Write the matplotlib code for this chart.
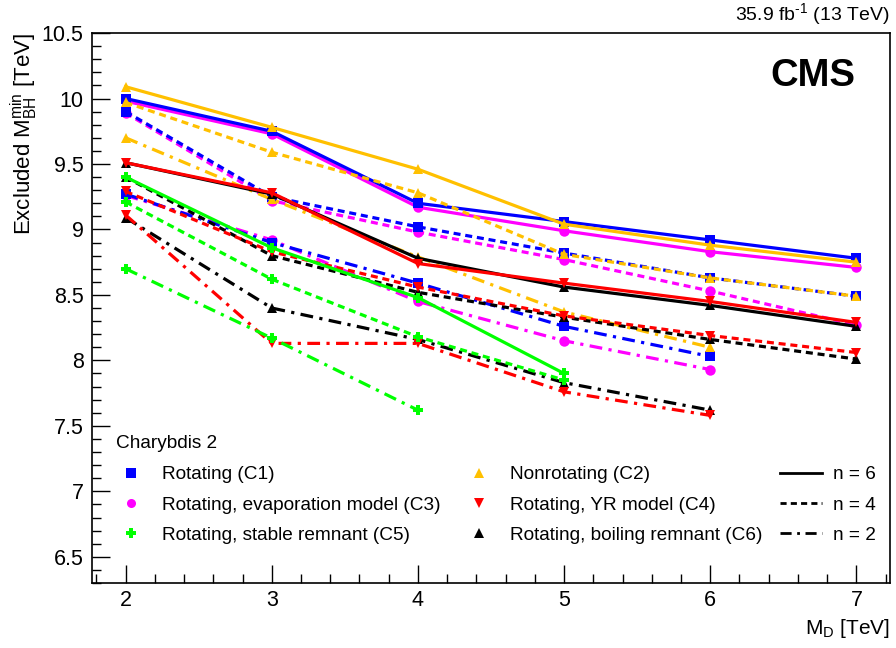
import matplotlib
matplotlib.use('Agg')
import matplotlib.pyplot as plt
from matplotlib.lines import Line2D
from matplotlib.ticker import MultipleLocator

plt.rcParams['font.family'] = ['Liberation Sans', 'DejaVu Sans']
plt.rcParams['mathtext.fontset'] = 'custom'
plt.rcParams['mathtext.rm'] = 'Liberation Sans'
plt.rcParams['mathtext.it'] = 'Liberation Sans'

# M_D values (TeV)
md = [2, 3, 4, 5, 6, 7]

# Excluded M_BH^min (TeV)
c1_n6 = [10.00, 9.75, 9.20, 9.06, 8.92, 8.78]
c1_n4 = [9.90, 9.25, 9.02, 8.82, 8.63, 8.49]
c1_n2 = [9.27, 8.90, 8.59, 8.26, 8.03]
c2_n6 = [10.09, 9.78, 9.46, 9.04, 8.88, 8.75]
c2_n4 = [9.97, 9.59, 9.28, 8.81, 8.63, 8.49]
c2_n2 = [9.70, 9.23, 8.79, 8.37, 8.10]
c3_n6 = [9.98, 9.73, 9.17, 8.99, 8.83, 8.71]
c3_n4 = [9.89, 9.22, 8.98, 8.77, 8.53, 8.27]
c3_n2 = [9.26, 8.92, 8.45, 8.15, 7.93]
c4_n6 = [9.51, 9.28, 8.74, 8.59, 8.45, 8.29]
c4_n4 = [9.29, 8.83, 8.56, 8.34, 8.19, 8.06]
c4_n2 = [9.11, 8.13, 8.13, 7.76, 7.58]
c5_n6 = [9.40, 8.86, 8.48, 7.90]
c5_n4 = [9.21, 8.62, 8.18, 7.85]
c5_n2 = [8.70, 8.17, 7.62]
c6_n6 = [9.51, 9.27, 8.78, 8.56, 8.42, 8.26]
c6_n4 = [9.40, 8.80, 8.52, 8.33, 8.16, 8.01]
c6_n2 = [9.09, 8.40, 8.16, 7.83, 7.62]

labels = ['Rotating (C1)', 'Nonrotating (C2)', 'Rotating, evaporation model (C3)',
          'Rotating, YR model (C4)', 'Rotating, stable remnant (C5)',
          'Rotating, boiling remnant (C6)']
colors = ['#0000ff', '#ffc000', '#ff00ff', '#ff0000', '#00ff00', '#000000']
markers = ['s', '^', 'o', 'v', 'P', '^']
series = [[c1_n6, c1_n4, c1_n2], [c2_n6, c2_n4, c2_n2], [c3_n6, c3_n4, c3_n2],
          [c4_n6, c4_n4, c4_n2], [c5_n6, c5_n4, c5_n2], [c6_n6, c6_n4, c6_n2]]
styles = ['-', (0, (2.2, 1.5)), (0, (4, 2, 1, 2))]
n_labels = ['n = 6', 'n = 4', 'n = 2']

fig = plt.figure(figsize=(8.96, 6.48), dpi=100)
ax = fig.add_axes([0.1027, 0.1003, 0.8906, 0.8487])

# drawing order so overlaps look like the original
order = [2, 0, 1, 5, 3, 4]
for i in order:
    for vals, ls in zip(series[i], styles):
        ax.plot(md[:len(vals)], vals, color=colors[i], ls=ls, lw=2.3,
                marker=markers[i], markersize=7.5, markeredgewidth=0)

ax.set_xlim(1.77, 7.23)
ax.set_ylim(6.3, 10.5)
ax.xaxis.set_major_locator(MultipleLocator(1))
ax.xaxis.set_minor_locator(MultipleLocator(0.2))
ax.yaxis.set_major_locator(MultipleLocator(0.5))
ax.yaxis.set_minor_locator(MultipleLocator(0.1))
ax.tick_params(which='both', direction='in', labelsize=15.5, width=1)
ax.tick_params(which='major', length=13)
ax.tick_params(which='minor', length=6.5)
ax.tick_params(axis='x', pad=5)
ax.tick_params(axis='y', pad=6)
for s in ax.spines.values():
    s.set_linewidth(1.2)
ax.set_yticks([6.5, 7, 7.5, 8, 8.5, 9, 9.5, 10, 10.5])
ax.set_yticklabels(['6.5', '7', '7.5', '8', '8.5', '9', '9.5', '10', '10.5'])

ax.set_xlabel(r'M$_{\mathrm{D}}$ [TeV]', fontsize=15, loc='right', labelpad=4)
ax.set_ylabel(r'Excluded M$^{\mathrm{min}}_{\mathrm{BH}}$ [TeV]', fontsize=16,
              loc='top', labelpad=1)

ax.text(0.956, 0.955, 'CMS', transform=ax.transAxes, fontsize=27.5,
        fontweight='bold', ha='right', va='top')
fig.text(0.993, 0.978, r'35.9 fb$^{\text{-}1}$ (13 TeV)', fontsize=14,
         ha='right', va='center')

# legend: three separate columns
ax.text(0.030, 0.2545, 'Charybdis 2', transform=ax.transAxes, fontsize=13.7,
        ha='left', va='center')


def marker_handle(k):
    return Line2D([], [], ls='none', marker=markers[k], color=colors[k],
                  markersize=6.5, markeredgewidth=0)


col1 = [0, 2, 4]
col2 = [1, 3, 5]
leg_kw = dict(frameon=False, fontsize=13.7, loc='center left', borderpad=0,
              borderaxespad=0, labelspacing=0.68)

leg1 = ax.legend([marker_handle(k) for k in col1], [labels[k] for k in col1],
                 bbox_to_anchor=(0.030, 0.1418), handlelength=1.6,
                 handletextpad=0.8, **leg_kw)
ax.add_artist(leg1)
leg2 = ax.legend([marker_handle(k) for k in col2], [labels[k] for k in col2],
                 bbox_to_anchor=(0.466, 0.1418), handlelength=1.6,
                 handletextpad=0.8, **leg_kw)
ax.add_artist(leg2)
ax.legend([Line2D([], [], color='black', ls=s, lw=2) for s in styles], n_labels,
          bbox_to_anchor=(0.862, 0.1418), handlelength=2.2,
          handletextpad=0.57, **leg_kw)

fig.savefig('out.png', dpi=100)
